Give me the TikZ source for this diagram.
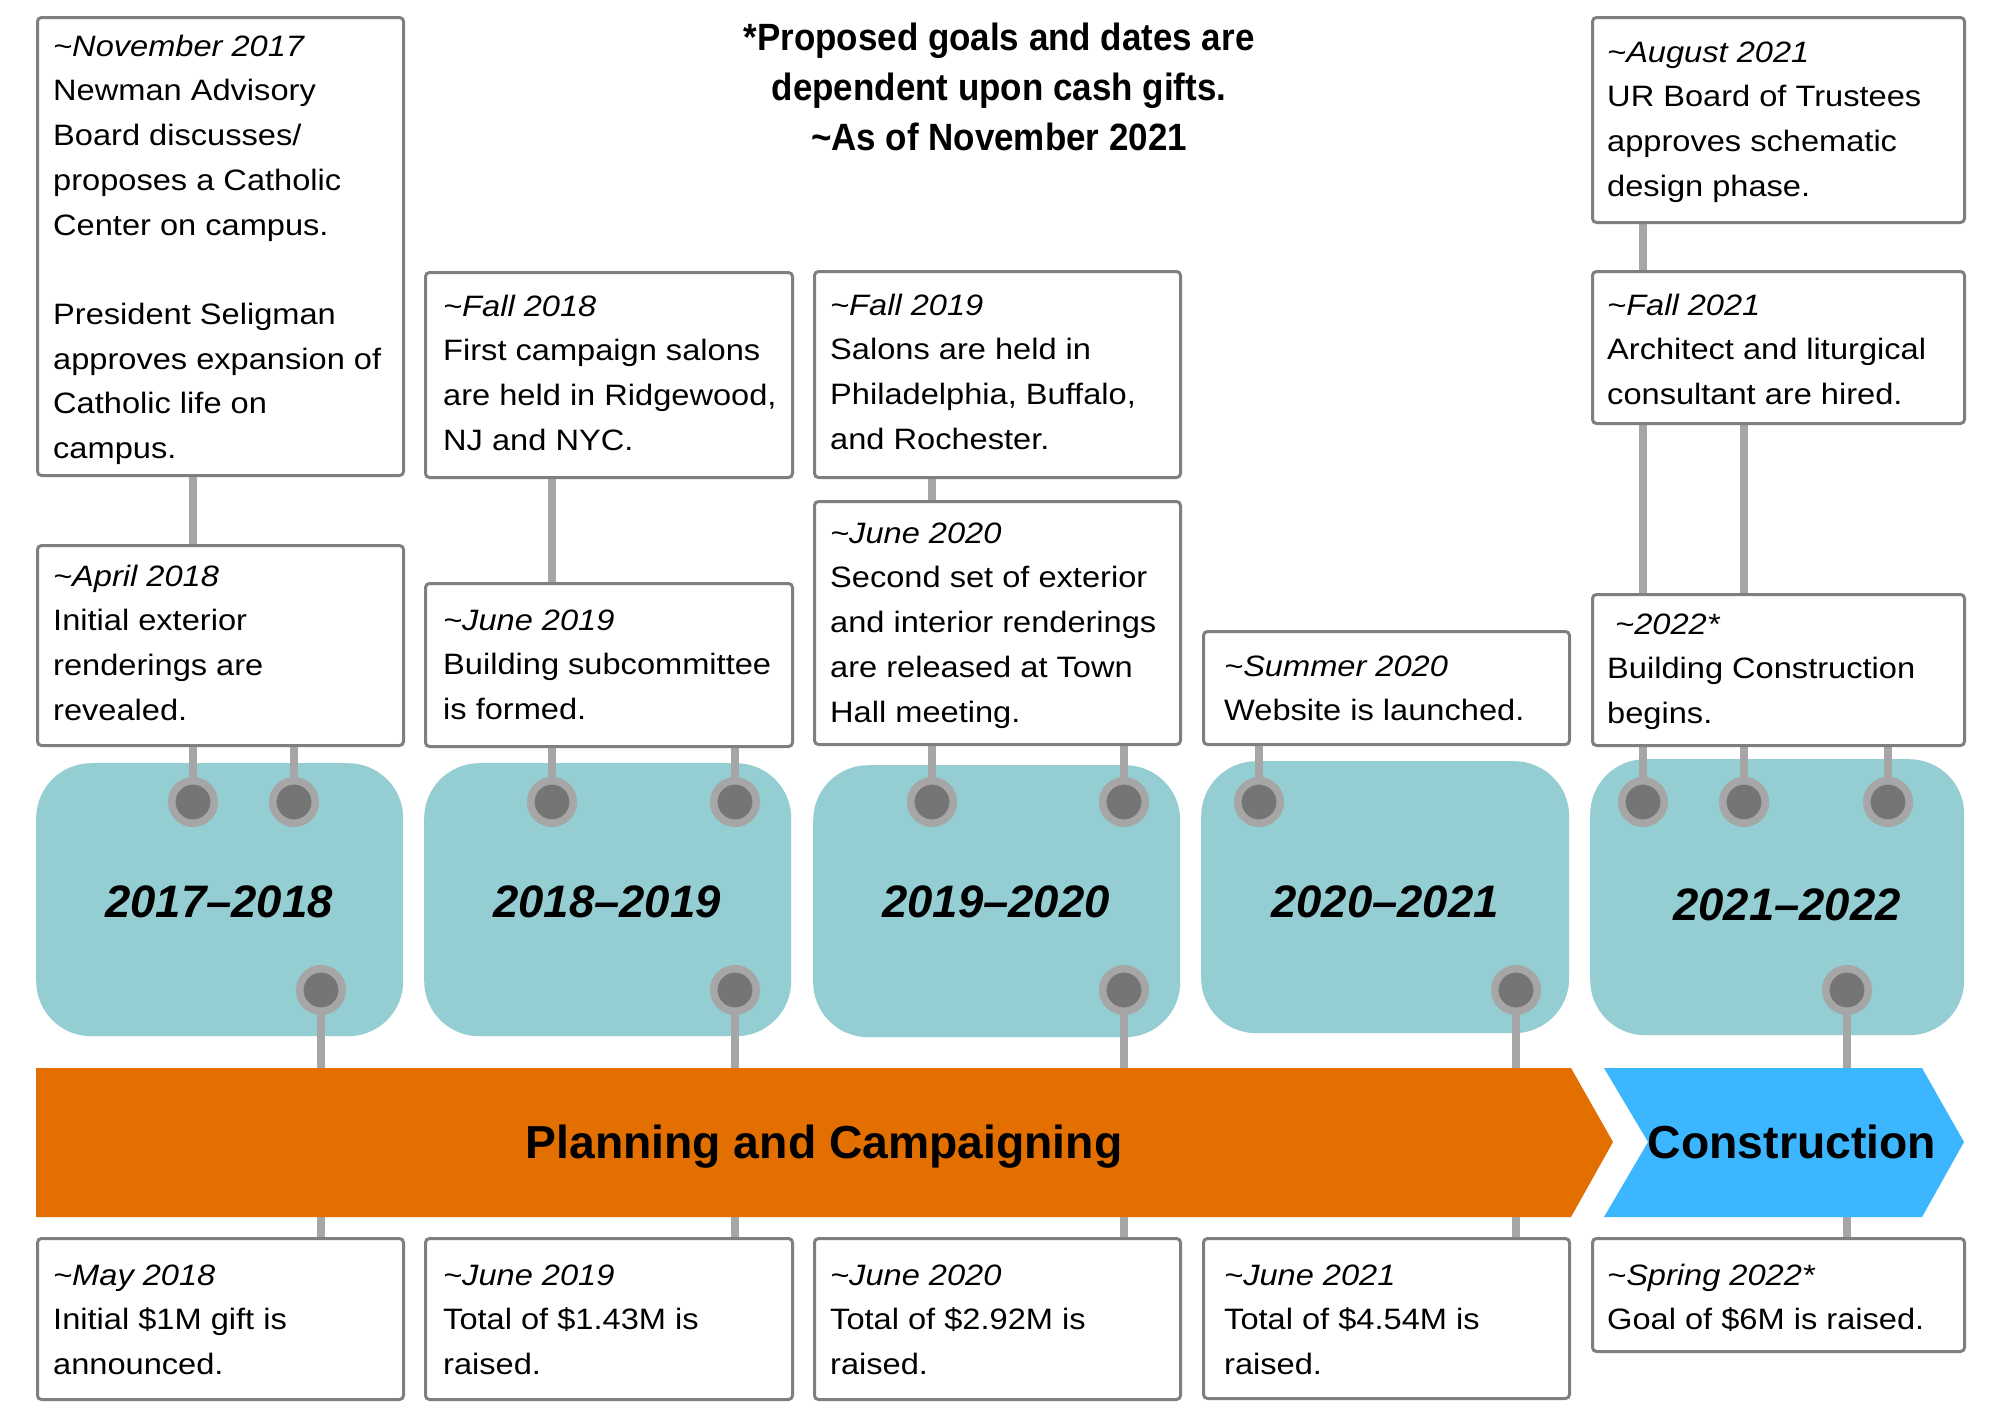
\documentclass[tikz,border=0pt]{standalone}
\usepackage{fontspec}
\setmainfont{Liberation Sans}
\newfontfamily\bodyfont[FakeStretch=1.105]{Liberation Sans}
\newfontfamily\titlefont[FakeStretch=0.92]{Liberation Sans}
\newcommand\tld{\textasciitilde}
\pgfdeclarelayer{bg}
\pgfdeclarelayer{conn}
\pgfsetlayers{bg,conn,main}
\definecolor{tealbox}{HTML}{94CDD2}
\definecolor{barorange}{HTML}{E26F00}
\definecolor{barblue}{HTML}{3BB6FF}
\definecolor{boxgray}{HTML}{7F7F7F}
\definecolor{ringgray}{HTML}{A6A6A6}
\definecolor{dotgray}{HTML}{757575}
\tikzset{
  evbox/.style={draw=boxgray, line width=3pt, rounded corners=4pt, fill=white, inner sep=0pt, anchor=north west},
  evtext/.style={inner sep=0pt, align=left, anchor=north west, font=\bodyfont\fontsize{29.5}{44.7}\selectfont},
  period/.style={fill=tealbox, rounded corners=55pt, inner sep=0pt, anchor=north west},
  yearlbl/.style={inner sep=0pt, anchor=base, font=\fontsize{45.5}{50}\selectfont\bfseries\itshape},
  dot/.style={circle, fill=dotgray, draw=ringgray, line width=7.5pt, minimum size=42.5pt, inner sep=0pt},
  conn/.style={draw=ringgray, line width=7.5pt},
  barlbl/.style={inner sep=0pt, anchor=base, font=\fontsize{46.3}{50}\selectfont\bfseries},
  titlelbl/.style={inner sep=0pt, anchor=north, align=center, font=\titlefont\bfseries\fontsize{38}{50}\selectfont}
}
\newcommand\evtext[4]{\node[evtext] (#1t) at ([shift={(#2,#3-31.29)}]#1.north west) {\strut #4};}
\begin{document}
\begin{tikzpicture}[x=1pt,y=-1pt]
\begin{pgfonlayer}{bg}
\fill[white] (0,0) rectangle (2000,1414);
\end{pgfonlayer}
\useasboundingbox (0,0) rectangle (2000,1414);

% title
\node[titlelbl] (title) at (999,15) {\strut *Proposed goals and dates are\\ dependent upon cash gifts.\\ \tld As of November 2021};

% period boxes
\begin{pgfonlayer}{bg}
\node[period, minimum width=367pt, minimum height=273pt] (p1) at (36,763) {};
\node[period, minimum width=367pt, minimum height=273pt] (p2) at (424,763) {};
\node[period, minimum width=367pt, minimum height=272pt] (p3) at (813,765) {};
\node[period, minimum width=368pt, minimum height=272pt] (p4) at (1201,761) {};
\node[period, minimum width=374pt, minimum height=276pt] (p5) at (1590,759) {};
\end{pgfonlayer}
\node[yearlbl] (y1) at (219,917) {2017--2018};
\node[yearlbl] (y2) at (607,917) {2018--2019};
\node[yearlbl] (y3) at (996,917) {2019--2020};
\node[yearlbl] (y4) at (1385,917) {2020--2021};
\node[yearlbl] (y5) at (1787,920) {2021--2022};

% dots
\node[dot] (d1a) at (193,802) {};
\node[dot] (d1b) at (294,802) {};
\node[dot] (d1c) at (321,990) {};
\node[dot] (d2a) at (552,802) {};
\node[dot] (d2b) at (735,802) {};
\node[dot] (d2c) at (735,990) {};
\node[dot] (d3a) at (932,802) {};
\node[dot] (d3b) at (1124,802) {};
\node[dot] (d3c) at (1124,990) {};
\node[dot] (d4a) at (1259,802) {};
\node[dot] (d4c) at (1516,990) {};
\node[dot] (d5a) at (1643,802) {};
\node[dot] (d5b) at (1744,802) {};
\node[dot] (d5e) at (1888,802) {};
\node[dot] (d5c) at (1847,990) {};

% event boxes
\node[evbox, minimum width=366pt, minimum height=458pt] (nov) at (36,16) {};
\node[evbox, minimum width=366pt, minimum height=200pt] (apr) at (36,544) {};
\node[evbox, minimum width=366pt, minimum height=161pt] (may) at (36,1237) {};
\node[evbox, minimum width=367pt, minimum height=205pt] (fa18) at (424,271) {};
\node[evbox, minimum width=367pt, minimum height=163pt] (jn19) at (424,582) {};
\node[evbox, minimum width=367pt, minimum height=161pt] (jn19b) at (424,1237) {};
\node[evbox, minimum width=366pt, minimum height=206pt] (fa19) at (813,270) {};
\node[evbox, minimum width=366pt, minimum height=243pt] (jn20) at (813,500) {};
\node[evbox, minimum width=366pt, minimum height=161pt] (jn20b) at (813,1237) {};
\node[evbox, minimum width=366pt, minimum height=113pt] (su20) at (1202,630) {};
\node[evbox, minimum width=366pt, minimum height=160pt] (jn21) at (1202,1237) {};
\node[evbox, minimum width=372pt, minimum height=205pt] (au21) at (1591,16) {};
\node[evbox, minimum width=372pt, minimum height=152pt] (fa21) at (1591,270) {};
\node[evbox, minimum width=372pt, minimum height=151pt] (b22) at (1591,593) {};
\node[evbox, minimum width=372pt, minimum height=113pt] (sp22) at (1591,1237) {};

\evtext{nov}{17}{40}{\textit{\tld November 2017}\\ Newman Advisory\\ Board discusses/\\ proposes a Catholic\\ Center on campus.\\ \strut\\ President Seligman\\ approves expansion of\\ Catholic life on\\ campus.}
\evtext{apr}{17}{42}{\textit{\tld April 2018}\\ Initial exterior\\ renderings are\\ revealed.}
\evtext{may}{17}{48}{\textit{\tld May 2018}\\ Initial \$1M gift is\\ announced.}
\evtext{fa18}{19}{45}{\textit{\tld Fall 2018}\\ First campaign salons\\ are held in Ridgewood,\\ NJ and NYC.}
\evtext{jn19}{19}{48}{\textit{\tld June 2019}\\ Building subcommittee\\ is formed.}
\evtext{jn19b}{19}{48}{\textit{\tld June 2019}\\ Total of \$1.43M is\\ raised.}
\evtext{fa19}{17}{45}{\textit{\tld Fall 2019}\\ Salons are held in\\ Philadelphia, Buffalo,\\ and Rochester.}
\evtext{jn20}{17}{43}{\textit{\tld June 2020}\\ Second set of exterior\\ and interior renderings\\ are released at Town\\ Hall meeting.}
\evtext{jn20b}{17}{48}{\textit{\tld June 2020}\\ Total of \$2.92M is\\ raised.}
\evtext{su20}{22}{46}{\textit{\tld Summer 2020}\\ Website is launched.}
\evtext{jn21}{22}{48}{\textit{\tld June 2021}\\ Total of \$4.54M is\\ raised.}
\evtext{au21}{16}{46}{\textit{\tld August 2021}\\ UR Board of Trustees\\ approves schematic\\ design phase.}
\evtext{fa21}{16}{45}{\textit{\tld Fall 2021}\\ Architect and liturgical\\ consultant are hired.}
\evtext{b22}{16}{41}{\textit{\hspace*{8pt}\tld 2022*}\\ Building Construction\\ begins.}
\evtext{sp22}{16}{48}{\textit{\tld Spring 2022*}\\ Goal of \$6M is raised.}

% phase bars
\fill[barorange] (36,1068) -- (1571,1068) -- (1613,1142) -- (1571,1217) -- (36,1217) -- cycle;
\fill[barblue] (1604,1068) -- (1922,1068) -- (1964,1142) -- (1922,1217) -- (1604,1217) -- (1648,1142) -- cycle;
\node[barlbl] (plan) at (824,1158) {Planning and Campaigning};
\node[barlbl] (cons) at (1792,1158) {Construction};

% connectors
\begin{pgfonlayer}{conn}
\draw[conn] (nov.south -| d1a) -- (apr.north -| d1a);
\draw[conn] (apr.south -| d1a) -- (d1a.center);
\draw[conn] (apr.south -| d1b) -- (d1b.center);
\draw[conn] (d1c.center) -- (may.north -| d1c);
\draw[conn] (fa18.south -| d2a) -- (jn19.north -| d2a);
\draw[conn] (jn19.south -| d2a) -- (d2a.center);
\draw[conn] (jn19.south -| d2b) -- (d2b.center);
\draw[conn] (d2c.center) -- (jn19b.north -| d2c);
\draw[conn] (fa19.south -| d3a) -- (jn20.north -| d3a);
\draw[conn] (jn20.south -| d3a) -- (d3a.center);
\draw[conn] (jn20.south -| d3b) -- (d3b.center);
\draw[conn] (d3c.center) -- (jn20b.north -| d3c);
\draw[conn] (su20.south -| d4a) -- (d4a.center);
\draw[conn] (d4c.center) -- (jn21.north -| d4c);
\draw[conn] (au21.south -| d5a) -- (fa21.north -| d5a);
\draw[conn] (fa21.south -| d5a) -- (b22.north -| d5a);
\draw[conn] (fa21.south -| d5b) -- (b22.north -| d5b);
\draw[conn] (b22.south -| d5a) -- (d5a.center);
\draw[conn] (b22.south -| d5b) -- (d5b.center);
\draw[conn] (b22.south -| d5e) -- (d5e.center);
\draw[conn] (d5c.center) -- (sp22.north -| d5c);
\end{pgfonlayer}
\end{tikzpicture}
\end{document}
